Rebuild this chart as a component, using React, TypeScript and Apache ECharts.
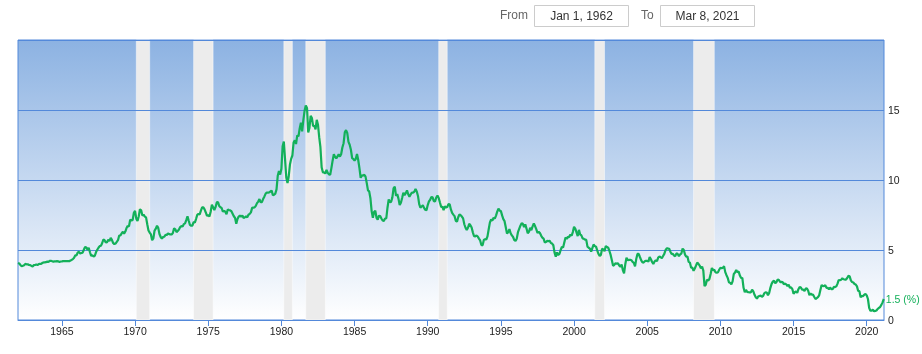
import React, { useEffect, useRef } from 'react';
import * as echarts from 'echarts';

// Monthly 10-year Treasury yield (%), Jan 1962 → Mar 2021
const y1960s = [
  4.08, 4.04, 3.93, 3.84, 3.87, 3.91, 4.01, 3.98, 3.98, 3.93, 3.92, 3.86,
  3.83, 3.92, 3.93, 3.97, 3.93, 3.99, 4.02, 4.0, 4.08, 4.11, 4.12, 4.13,
  4.17, 4.15, 4.22, 4.23, 4.2, 4.17, 4.19, 4.19, 4.2, 4.19, 4.15, 4.18,
  4.19, 4.21, 4.21, 4.2, 4.21, 4.21, 4.2, 4.25, 4.29, 4.35, 4.45, 4.62,
  4.61, 4.83, 4.87, 4.75, 4.78, 4.81, 5.02, 5.22, 5.18, 5.01, 5.16, 4.84,
  4.58, 4.63, 4.54, 4.59, 4.85, 5.02, 5.16, 5.28, 5.3, 5.48, 5.75, 5.7,
  5.53, 5.56, 5.74, 5.64, 5.87, 5.72, 5.5, 5.42, 5.46, 5.58, 5.7, 6.03,
  6.04, 6.19, 6.3, 6.17, 6.32, 6.57, 6.72, 6.69, 7.16, 7.1, 7.14, 7.65,
];
const y1970s = [
  7.79, 7.24, 7.07, 7.39, 7.91, 7.84, 7.46, 7.53, 7.39, 7.33, 6.84, 6.39,
  6.24, 6.11, 5.7, 5.83, 6.39, 6.52, 6.73, 6.58, 6.14, 5.93, 5.81, 5.93,
  5.95, 6.08, 6.07, 6.19, 6.13, 6.11, 6.11, 6.21, 6.55, 6.48, 6.28, 6.36,
  6.46, 6.64, 6.71, 6.67, 6.85, 6.9, 7.13, 7.4, 7.09, 6.79, 6.73, 6.74,
  6.99, 6.96, 7.21, 7.51, 7.58, 7.54, 7.81, 8.04, 8.04, 7.9, 7.68, 7.43,
  7.5, 7.39, 7.73, 8.23, 8.06, 7.86, 8.06, 8.4, 8.43, 8.14, 8.05, 8.0,
  7.74, 7.79, 7.73, 7.56, 7.9, 7.86, 7.83, 7.77, 7.59, 7.41, 7.29, 6.87,
  7.21, 7.39, 7.46, 7.37, 7.46, 7.28, 7.33, 7.4, 7.34, 7.52, 7.58, 7.69,
  8.01, 8.03, 8.04, 8.15, 8.35, 8.46, 8.64, 8.41, 8.42, 8.64, 8.81, 9.01,
  9.1, 9.1, 9.12, 9.18, 9.25, 8.91, 8.95, 9.03, 9.33, 10.3, 10.65, 10.39,
];
const y1980s = [
  10.8, 12.41, 12.75, 11.47, 10.18, 9.78, 10.25, 11.1, 11.51, 11.75, 12.68, 12.84,
  12.57, 13.19, 13.12, 13.68, 14.1, 13.47, 14.28, 14.94, 15.32, 15.15, 13.39, 13.72,
  14.59, 14.43, 13.86, 13.87, 13.62, 14.3, 13.95, 13.06, 12.34, 10.91, 10.55, 10.54,
  10.46, 10.72, 10.51, 10.4, 10.38, 10.85, 11.38, 11.85, 11.65, 11.54, 11.69, 11.83,
  11.67, 11.84, 12.32, 12.63, 13.41, 13.56, 13.36, 12.72, 12.52, 12.16, 11.57, 11.5,
  11.38, 11.51, 11.86, 11.43, 10.85, 10.16, 10.31, 10.33, 10.37, 10.24, 9.78, 9.26,
  9.19, 8.7, 7.78, 7.3, 7.71, 7.8, 7.3, 7.17, 7.45, 7.43, 7.25, 7.11,
  7.08, 7.25, 7.25, 8.02, 8.61, 8.4, 8.45, 8.76, 9.42, 9.52, 8.86, 8.99,
  8.67, 8.21, 8.37, 8.72, 9.09, 8.92, 9.06, 9.26, 8.98, 8.8, 8.96, 9.11,
  9.09, 9.17, 9.36, 9.18, 8.86, 8.28, 8.02, 8.11, 8.19, 8.01, 7.87, 7.84,
];
const y1990s = [
  8.21, 8.47, 8.59, 8.79, 8.76, 8.48, 8.47, 8.75, 8.89, 8.72, 8.39, 8.08,
  8.09, 7.85, 8.11, 8.04, 8.07, 8.28, 8.27, 7.9, 7.65, 7.53, 7.42, 7.09,
  7.03, 7.34, 7.54, 7.48, 7.39, 7.26, 6.84, 6.59, 6.42, 6.59, 6.87, 6.77,
  6.6, 6.26, 5.98, 5.97, 6.04, 5.96, 5.81, 5.68, 5.36, 5.33, 5.72, 5.77,
  5.75, 5.97, 6.48, 6.97, 7.18, 7.1, 7.3, 7.24, 7.46, 7.74, 7.96, 7.81,
  7.78, 7.47, 7.2, 7.06, 6.63, 6.17, 6.28, 6.49, 6.2, 6.04, 5.93, 5.71,
  5.65, 5.81, 6.27, 6.51, 6.74, 6.91, 6.87, 6.64, 6.83, 6.53, 6.2, 6.3,
  6.58, 6.42, 6.69, 6.89, 6.71, 6.49, 6.22, 6.3, 6.21, 6.03, 5.88, 5.81,
  5.54, 5.57, 5.65, 5.64, 5.65, 5.5, 5.46, 5.34, 4.81, 4.53, 4.83, 4.65,
  4.72, 5.0, 5.23, 5.18, 5.54, 5.9, 5.79, 5.94, 5.92, 6.11, 6.03, 6.28,
];
const y2000s = [
  6.66, 6.52, 6.26, 5.99, 6.44, 6.1, 6.05, 5.83, 5.8, 5.74, 5.72, 5.24,
  5.16, 5.1, 4.89, 5.14, 5.39, 5.28, 5.24, 4.97, 4.73, 4.57, 4.65, 5.09,
  5.04, 4.91, 5.28, 5.21, 5.16, 4.93, 4.65, 4.26, 3.87, 3.94, 4.05, 4.03,
  4.05, 3.9, 3.81, 3.96, 3.57, 3.33, 3.98, 4.45, 4.27, 4.29, 4.3, 4.27,
  4.15, 4.08, 3.83, 4.35, 4.72, 4.73, 4.5, 4.28, 4.13, 4.1, 4.19, 4.23,
  4.22, 4.17, 4.5, 4.34, 4.14, 4.0, 4.18, 4.26, 4.2, 4.46, 4.54, 4.47,
  4.42, 4.57, 4.72, 4.99, 5.11, 5.11, 5.09, 4.88, 4.72, 4.73, 4.6, 4.56,
  4.76, 4.72, 4.56, 4.69, 4.75, 5.1, 5.0, 4.67, 4.52, 4.53, 4.15, 4.1,
  3.74, 3.74, 3.51, 3.68, 3.88, 4.1, 4.01, 3.89, 3.69, 3.81, 3.53, 2.42,
  2.52, 2.87, 2.82, 2.93, 3.29, 3.72, 3.56, 3.59, 3.4, 3.39, 3.4, 3.59,
];
const y2010s = [
  3.73, 3.69, 3.73, 3.85, 3.42, 3.2, 3.01, 2.7, 2.65, 2.54, 2.76, 3.29,
  3.39, 3.58, 3.41, 3.46, 3.17, 3.0, 3.0, 2.3, 1.98, 2.15, 2.01, 1.98,
  1.97, 1.97, 2.17, 2.05, 1.8, 1.62, 1.53, 1.68, 1.72, 1.75, 1.65, 1.72,
  1.91, 1.98, 1.96, 1.76, 1.93, 2.3, 2.58, 2.74, 2.81, 2.62, 2.72, 2.9,
  2.86, 2.71, 2.72, 2.71, 2.56, 2.6, 2.54, 2.42, 2.53, 2.3, 2.33, 2.21,
  1.88, 1.98, 2.04, 1.94, 2.2, 2.36, 2.32, 2.17, 2.17, 2.07, 2.26, 2.24,
  2.09, 1.78, 1.89, 1.81, 1.81, 1.64, 1.5, 1.56, 1.63, 1.76, 2.14, 2.49,
  2.43, 2.42, 2.48, 2.3, 2.3, 2.19, 2.32, 2.21, 2.2, 2.36, 2.35, 2.4,
  2.58, 2.86, 2.84, 2.87, 2.98, 2.91, 2.89, 2.89, 3.0, 3.15, 3.12, 2.83,
  2.71, 2.68, 2.57, 2.53, 2.4, 2.07, 2.06, 1.63, 1.7, 1.71, 1.81, 1.86,
];
const y2020s = [
  1.76, 1.5, 0.87, 0.66, 0.67, 0.73, 0.62, 0.65, 0.68, 0.79, 0.87, 0.93,
  1.08, 1.26, 1.5,
];

const START_YEAR = 1962;
const END_YEAR = 2021 + 66 / 365; // Mar 8, 2021

// Recession shading (start, end as "YYYY-MM")
const recessionStart = ['1970-02', '1974-01', '1980-03', '1981-09', '1990-10', '2001-06', '2008-03'];
const recessionEnd = ['1971-01', '1975-05', '1980-10', '1983-01', '1991-05', '2002-02', '2009-08'];

const xTickYears = [1965, 1970, 1975, 1980, 1985, 1990, 1995, 2000, 2005, 2010, 2015, 2020];
const yTickValues = [0, 5, 10, 15];

const toYear = (s: string) => {
  const [y, m] = s.split('-').map(Number);
  return y + (m - 1) / 12;
};

const FONT = '"Liberation Sans", Arial, Helvetica, sans-serif';
const BLUE = '#5389da';
const GREEN = '#13b05a';

export default function App() {
  const ref = useRef<HTMLDivElement>(null);
  useEffect(() => {
    const chart = echarts.init(ref.current!, null, { renderer: 'svg' });
    const values = [...y1960s, ...y1970s, ...y1980s, ...y1990s, ...y2000s, ...y2010s, ...y2020s];
    const data = values.map((v, i) => [START_YEAR + i / 12, v]);
    const areas = recessionStart.map((s, i) => [
      { xAxis: toYear(s) },
      { xAxis: toYear(recessionEnd[i]) },
    ]);

    chart.setOption({
      animation: false,
      textStyle: { fontFamily: FONT },
      grid: {
        left: 18,
        right: 38,
        top: 40,
        bottom: 34,
        show: true,
        borderColor: BLUE,
        borderWidth: 1,
        backgroundColor: new echarts.graphic.LinearGradient(0, 0, 0, 1, [
          { offset: 0, color: '#8cb2e2' },
          { offset: 1, color: '#ffffff' },
        ]),
      },
      xAxis: {
        type: 'value',
        min: START_YEAR,
        max: END_YEAR,
        z: 2,
        axisLine: { show: true, lineStyle: { color: BLUE, width: 1 } },
        axisTick: { show: true, length: 6, lineStyle: { color: BLUE }, customValues: xTickYears },
        axisLabel: {
          customValues: xTickYears,
          color: '#222',
          fontSize: 10.5,
          margin: 5,
          fontFamily: FONT,
          formatter: (v: number) => String(Math.round(v)),
        },
        splitLine: { show: false },
      },
      yAxis: {
        type: 'value',
        position: 'right',
        min: 0,
        max: 20,
        interval: 5,
        z: 2,
        axisLine: { show: false },
        axisTick: { show: false },
        axisLabel: {
          customValues: yTickValues,
          color: '#222',
          fontSize: 10.5,
          margin: 4,
          fontFamily: FONT,
        },
        splitLine: { show: true, lineStyle: { color: BLUE, width: 1 } },
      },
      graphic: [
        { type: 'text', left: 500, top: 9, style: { text: 'From', fill: '#666', font: `12px ${FONT}` } },
        {
          type: 'rect',
          shape: { x: 534.5, y: 5.5, width: 94, height: 21 },
          style: { fill: '#fff', stroke: '#cccccc', lineWidth: 1 },
        },
        {
          type: 'text',
          x: 581.5,
          y: 16,
          style: { text: 'Jan 1, 1962', fill: '#333', font: `12px ${FONT}`, align: 'center', verticalAlign: 'middle' },
        },
        { type: 'text', left: 641, top: 9, style: { text: 'To', fill: '#666', font: `12px ${FONT}` } },
        {
          type: 'rect',
          shape: { x: 660.5, y: 5.5, width: 94, height: 21 },
          style: { fill: '#fff', stroke: '#cccccc', lineWidth: 1 },
        },
        {
          type: 'text',
          x: 707.5,
          y: 16,
          style: { text: 'Mar 8, 2021', fill: '#333', font: `12px ${FONT}`, align: 'center', verticalAlign: 'middle' },
        },
      ],
      series: [
        {
          type: 'line',
          data,
          z: 1,
          silent: true,
          showSymbol: false,
          lineStyle: { opacity: 0, width: 0 },
          markArea: {
            silent: true,
            itemStyle: {
              color: '#ececec',
              opacity: 1,
              borderColor: 'rgba(255,255,255,0.45)',
              borderWidth: 1,
            },
            data: areas,
          },
        },
        {
          type: 'line',
          data,
          z: 3,
          showSymbol: false,
          lineStyle: { color: GREEN, width: 2.2 },
          endLabel: {
            show: true,
            distance: 2,
            color: GREEN,
            fontSize: 10.5,
            fontFamily: FONT,
            formatter: (p: any) => `${p.value[1]} (%)`,
          },
        },
      ],
    });
    return () => chart.dispose();
  }, []);
  return <div ref={ref} style={{ position: 'fixed', left: 0, top: 0, width: 922, height: 354 }} />;
}
